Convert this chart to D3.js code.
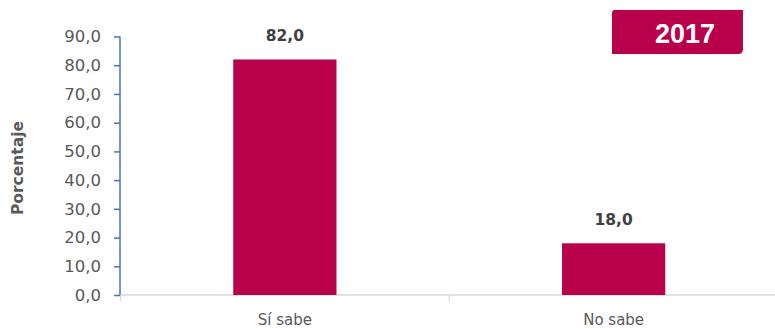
<!DOCTYPE html>
<html><head><meta charset="utf-8">
<script src="https://cdn.jsdelivr.net/npm/d3@7"></script>
<style>html,body{margin:0;padding:0;background:#fff;}svg{display:block;}</style>
</head><body>
<svg id="c" width="775" height="329"></svg>
<script>
const categories = ["Sí sabe", "No sabe"];
const values = [82.0, 18.0];
const yTicks = [0, 10, 20, 30, 40, 50, 60, 70, 80, 90];
const yearLabel = "2017";
const yTitle = "Porcentaje";

const svg = d3.select("#c");
const barColor = "#B9004A";
const fmt = v => d3.format(".1f")(v).replace(".", ",");

const x = d3.scaleBand().domain(categories).range([120.5, 778]).paddingInner(0.686).paddingOuter(0.343);
const y = d3.scaleLinear().domain([0, 90]).range([295, 36.5]);

// baseline (category axis)
svg.append("line").attr("x1", 120).attr("x2", 775).attr("y1", y(0)).attr("y2", y(0))
  .attr("stroke", "#d9d9d9").attr("stroke-width", 1.5);
// category separator ticks
const bounds = [x.range()[0], (x(categories[0]) + x.bandwidth()/2 + x(categories[1]) + x.bandwidth()/2) / 2];
bounds.forEach(b => svg.append("line").attr("x1", b).attr("x2", b).attr("y1", y(0)).attr("y2", y(0) + 6)
  .attr("stroke", "#d9d9d9").attr("stroke-width", 1.2));

// bars
svg.selectAll("rect.bar").data(values).join("rect").attr("class", "bar")
  .attr("x", (d, i) => x(categories[i])).attr("width", x.bandwidth())
  .attr("y", d => y(d)).attr("height", d => y(0) - y(d)).attr("fill", barColor);

// value labels
svg.selectAll("text.val").data(values).join("text").attr("class", "val")
  .attr("x", (d, i) => x(categories[i]) + x.bandwidth()/2).attr("y", d => y(d) - 18)
  .attr("text-anchor", "middle").attr("font-family", "DejaVu Sans").attr("font-weight", "bold")
  .attr("font-size", 15.5).attr("fill", "#404040").text(d => fmt(d));

// y axis
const yAxis = d3.axisLeft(y).tickValues(yTicks).tickFormat(fmt).tickSize(6).tickPadding(13);
const ga = svg.append("g").attr("transform", "translate(120,0)").call(yAxis);
ga.select(".domain").attr("d", `M0,${y(90)}V${y(0)}`).attr("stroke", "#4472C4").attr("stroke-width", 1.5);
ga.selectAll(".tick line").attr("stroke", "#4472C4").attr("stroke-width", 1.5);
ga.selectAll(".tick text").attr("font-family", "DejaVu Sans").attr("font-size", 16.5).attr("fill", "#595959");

// x labels
svg.selectAll("text.cat").data(categories).join("text").attr("class", "cat")
  .attr("x", d => x(d) + x.bandwidth()/2).attr("y", 325)
  .attr("text-anchor", "middle").attr("font-family", "DejaVu Sans").attr("font-size", 15)
  .attr("fill", "#595959").text(d => d);

// y title
svg.append("text").attr("transform", "translate(23,168) rotate(-90)")
  .attr("text-anchor", "middle").attr("font-family", "DejaVu Sans").attr("font-weight", "bold")
  .attr("font-size", 15.5).attr("fill", "#595959").text(yTitle);

// year badge
const bx0 = 612, bx1 = 743, by0 = 10, by1 = 54;
svg.append("path").attr("d",
  `M${bx0+3},${by0} H${bx1} V${by1-5} Q${bx1},${by1} ${bx1-5},${by1} H${bx0} V${by0+3} Q${bx0},${by0} ${bx0+3},${by0} Z`)
  .attr("fill", barColor);
svg.append("text").attr("x", 685).attr("y", 42.5).attr("text-anchor", "middle")
  .attr("font-family", "Liberation Sans").attr("font-weight", "bold").attr("font-size", 27)
  .attr("fill", "#fff").text(yearLabel);
</script>
</body></html>
